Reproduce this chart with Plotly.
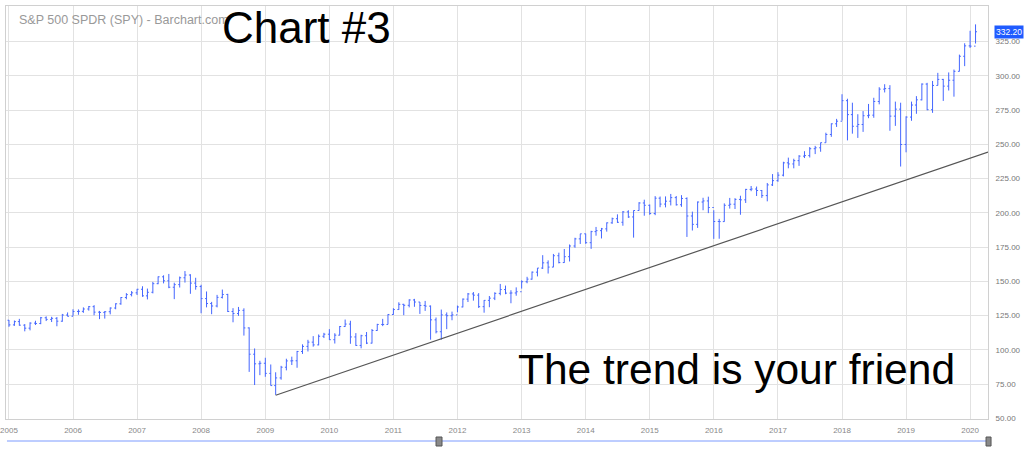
import plotly.graph_objects as go
import pandas as pd

# Monthly SPY bars, Jan 2005 .. Feb 2020
dates = pd.date_range("2005-01-01", "2020-02-01", freq="MS")

highs = [
    121.8, 121.4, 122.6, 118.8, 120.1, 121.2, 124.0, 124.4, 124.1, 123.9, 126.2, 127.3,
    129.6, 129.5, 131.0, 132.0, 132.6, 128.4, 128.3, 131.0, 134.0, 138.5, 141.4, 142.9,
    144.5, 146.4, 144.7, 149.6, 153.6, 154.4, 155.4, 149.0, 153.5, 157.5, 155.2, 152.6,
    147.5, 142.6, 135.0, 140.1, 144.0, 140.9, 130.4, 131.3, 130.3, 116.4, 101.0, 92.0,
    94.2, 89.3, 83.6, 88.3, 93.5, 95.0, 99.2, 104.0, 107.3, 110.0, 111.2, 112.4,
    115.1, 112.1, 117.4, 122.1, 121.2, 112.2, 111.0, 113.0, 115.2, 119.0, 122.6, 126.0,
    130.4, 134.7, 133.6, 136.9, 137.2, 134.9, 135.7, 132.4, 123.6, 129.4, 127.3, 127.9,
    132.3, 137.5, 141.5, 142.2, 141.4, 136.3, 139.3, 142.0, 148.1, 146.9, 143.5, 145.6,
    150.7, 153.3, 157.2, 159.7, 169.1, 165.3, 170.0, 170.9, 173.6, 176.9, 181.8, 184.7,
    184.8, 186.9, 189.7, 189.0, 193.0, 196.5, 198.9, 201.3, 201.9, 201.8, 207.8, 209.6,
    206.1, 212.2, 211.9, 212.0, 213.8, 212.3, 212.9, 211.3, 200.9, 208.3, 211.0, 211.8,
    201.9, 195.6, 206.9, 210.9, 210.7, 212.5, 217.5, 219.6, 219.2, 216.7, 221.8, 228.3,
    229.7, 237.3, 240.3, 239.5, 242.1, 245.0, 248.0, 248.9, 251.3, 258.5, 265.3, 268.6,
    286.6, 283.3, 280.4, 272.0, 274.3, 279.5, 284.0, 291.7, 293.9, 293.2, 281.2, 280.4,
    270.5, 281.2, 285.2, 294.5, 294.9, 296.3, 302.2, 297.8, 302.5, 304.6, 315.5, 323.8,
    332.9, 337.6,
]
lows = [
    116.8, 117.5, 117.6, 113.5, 114.2, 118.1, 118.7, 121.0, 120.3, 117.2, 120.5, 124.4,
    124.8, 125.6, 127.0, 128.6, 125.2, 122.4, 122.8, 125.9, 129.6, 132.9, 136.9, 139.0,
    140.0, 138.7, 136.8, 141.2, 147.9, 148.5, 145.0, 137.0, 145.5, 149.1, 140.9, 143.9,
    126.7, 131.0, 126.0, 131.0, 137.5, 127.6, 120.1, 124.8, 110.4, 83.9, 74.3, 81.5,
    80.3, 73.9, 67.1, 78.2, 85.0, 88.9, 86.9, 97.0, 98.8, 102.3, 103.3, 108.6,
    107.2, 104.6, 110.5, 116.8, 104.4, 102.9, 101.1, 104.2, 104.6, 113.9, 117.3, 118.6,
    125.6, 129.2, 125.3, 131.0, 131.4, 126.2, 128.4, 107.4, 112.0, 107.4, 115.1, 121.6,
    127.4, 131.0, 134.9, 135.9, 130.6, 127.1, 131.1, 136.3, 139.8, 140.6, 134.0, 139.5,
    144.7, 148.6, 151.2, 153.6, 159.0, 155.7, 160.3, 163.1, 163.5, 164.5, 174.5, 177.3,
    177.4, 173.7, 183.3, 181.3, 186.3, 192.0, 192.6, 190.6, 196.3, 181.9, 201.6, 197.9,
    198.6, 198.3, 204.1, 204.0, 205.4, 205.3, 204.4, 182.4, 187.1, 189.0, 201.9, 199.8,
    181.0, 181.1, 193.5, 203.1, 202.8, 198.6, 207.2, 215.8, 212.3, 210.9, 208.4, 219.6,
    222.7, 226.6, 232.5, 232.5, 234.3, 240.0, 240.4, 242.9, 244.6, 251.2, 255.5, 262.7,
    267.4, 252.9, 257.8, 254.7, 259.1, 269.1, 269.4, 279.2, 287.9, 259.9, 263.5, 233.8,
    244.2, 267.2, 272.3, 282.1, 274.9, 273.0, 293.0, 281.7, 289.3, 284.8, 303.2, 307.1,
    320.4, 323.6,
]
closes = [
    118.2, 120.6, 118.0, 115.8, 119.5, 119.2, 123.4, 122.2, 123.0, 120.9, 125.4, 124.5,
    128.0, 128.1, 129.8, 131.5, 127.5, 127.3, 127.8, 130.5, 133.6, 138.2, 140.3, 141.6,
    144.2, 139.4, 142.0, 148.3, 153.3, 150.4, 145.7, 147.6, 152.6, 154.6, 148.7, 146.2,
    137.4, 133.8, 132.0, 138.3, 140.4, 128.0, 126.5, 128.8, 116.0, 96.8, 89.8, 90.2,
    82.8, 73.9, 79.5, 87.3, 91.9, 92.0, 98.8, 102.5, 105.6, 103.6, 109.9, 111.4,
    107.4, 110.7, 117.0, 118.8, 109.4, 103.2, 110.3, 104.9, 114.1, 118.5, 118.5, 125.8,
    129.4, 133.2, 132.5, 136.4, 134.9, 132.4, 131.9, 121.9, 113.2, 125.5, 124.9, 125.5,
    131.3, 137.0, 140.8, 139.9, 131.5, 136.1, 137.7, 141.2, 144.0, 141.4, 141.5, 142.4,
    149.7, 151.6, 156.7, 159.7, 163.5, 160.4, 168.7, 163.7, 168.0, 175.8, 181.0, 184.7,
    178.2, 186.3, 187.0, 188.3, 192.7, 195.7, 193.1, 200.7, 197.0, 201.7, 207.2, 205.5,
    199.5, 210.7, 206.4, 208.5, 211.1, 205.9, 210.5, 197.7, 191.6, 207.9, 208.7, 203.9,
    193.7, 193.6, 205.5, 206.3, 209.8, 209.5, 217.1, 217.4, 216.3, 212.6, 220.4, 223.5,
    227.5, 236.5, 235.7, 238.1, 241.4, 241.8, 246.8, 247.5, 251.2, 257.2, 265.0, 266.9,
    281.9, 271.7, 263.2, 264.5, 270.9, 271.3, 281.3, 290.3, 290.7, 270.6, 275.7, 249.9,
    269.9, 278.7, 282.5, 294.0, 275.3, 293.0, 297.4, 292.5, 296.8, 303.3, 314.3, 321.9,
    321.7, 332.2,
]
opens = [121.6] + closes[:-1]

# Hand-drawn trend line (from the March 2009 low to the right edge)
trend_dates = ["2009-03-01", "2020-04-12"]
trend_vals = [66.8, 244.4]

y_ticks = [50, 75, 100, 125, 150, 175, 200, 225, 250, 275, 300, 325]
last_price_label = "332.20"

BAR = "#4466ff"
GRID = "#e2e2e2"
FONT = "Arial, Liberation Sans, sans-serif"

fig = go.Figure()
fig.add_trace(go.Ohlc(
    x=dates, open=opens, high=highs, low=lows, close=closes,
    increasing=dict(line=dict(color=BAR, width=1)),
    decreasing=dict(line=dict(color=BAR, width=1)),
    tickwidth=0.3, showlegend=False, hoverinfo="skip",
))
fig.add_trace(go.Scatter(
    x=trend_dates, y=trend_vals, mode="lines",
    line=dict(color="#555555", width=1.2), showlegend=False, hoverinfo="skip",
))

fig.update_layout(
    width=1024, height=451,
    margin=dict(l=6, r=36, t=6, b=32, autoexpand=False),
    paper_bgcolor="white", plot_bgcolor="white",
    font=dict(family=FONT, color="#777777", size=8),
    xaxis=dict(
        range=["2004-12-15", "2020-04-12"],
        rangeslider=dict(visible=False),
        tick0="2005-01-01", dtick="M12", tickformat="%Y",
        showgrid=True, gridcolor=GRID, gridwidth=1,
        showline=True, linecolor="#d0d0d0", linewidth=1, mirror=True,
        ticks="outside", ticklen=3, tickcolor="rgba(0,0,0,0)",
        tickfont=dict(size=8, color="#888888"), zeroline=False,
    ),
    yaxis=dict(
        side="right", range=[49.5, 351],
        tickvals=y_ticks, ticktext=[f"{v:.2f}" for v in y_ticks],
        showgrid=True, gridcolor=GRID, gridwidth=1,
        showline=True, linecolor="#d0d0d0", linewidth=1, mirror=True,
        ticks="outside", ticklen=5, tickcolor="rgba(0,0,0,0)",
        tickfont=dict(size=8, color="#777777"), zeroline=False,
    ),
)

annotations = [
    dict(text="S&P 500 SPDR (SPY) - Barchart.com", xref="paper", yref="paper",
         x=0.0112, y=0.967, xanchor="left", yanchor="middle", showarrow=False,
         font=dict(size=12.5, color="#999999", family=FONT)),
    dict(text="Chart #3", xref="paper", yref="paper",
         x=0.3055, y=0.947, xanchor="center", yanchor="middle", showarrow=False,
         font=dict(size=44, color="black", family=FONT)),
    dict(text="The trend is your friend", xref="paper", yref="paper",
         x=0.744, y=0.121, xanchor="center", yanchor="middle", showarrow=False,
         font=dict(size=42.5, color="black", family=FONT)),
    dict(text=last_price_label, xref="paper", yref="y",
         x=1.006, y=closes[-1], xanchor="left", yanchor="middle", showarrow=False,
         bgcolor="#1f5bff", borderpad=1,
         font=dict(size=8.5, color="white", family=FONT)),
]
fig.update_layout(annotations=annotations)

shapes = [
    # navigator line and handles below the chart
    dict(type="line", xref="paper", yref="paper", x0=0.001, x1=0.998,
         y0=-0.0533, y1=-0.0533, line=dict(color="#7d9bff", width=1)),
    dict(type="rect", xref="paper", yref="paper", x0=0.4379, x1=0.4440,
         y0=-0.0436, y1=-0.0654, fillcolor="#8a8a8a", line=dict(color="#555555", width=1)),
    dict(type="rect", xref="paper", yref="paper", x0=0.9980, x1=1.0031,
         y0=-0.0436, y1=-0.0654, fillcolor="#8a8a8a", line=dict(color="#555555", width=1)),
]
fig.update_layout(shapes=shapes)

fig.write_html("out.html", config={"displayModeBar": False},
               post_script="document.body.style.margin='0';")
